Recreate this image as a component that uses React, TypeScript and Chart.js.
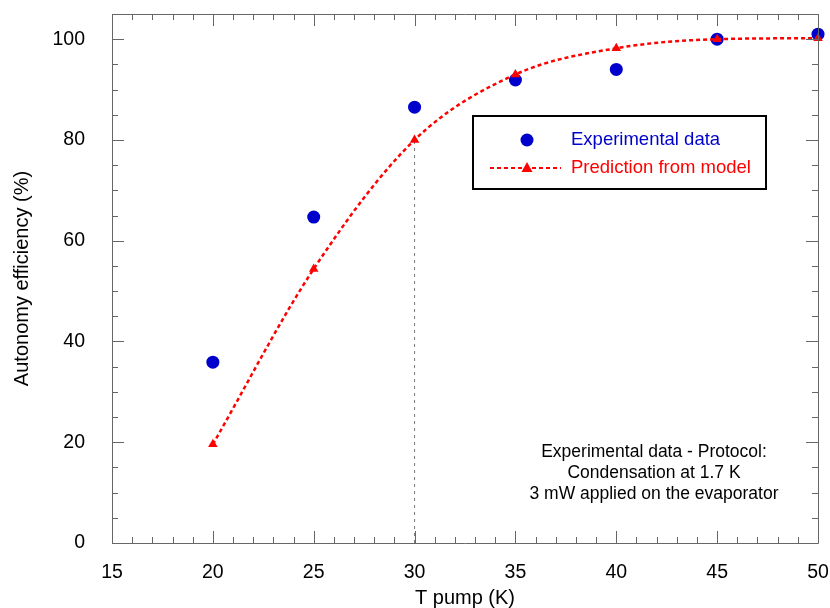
import React, { useEffect, useRef } from "react";
import { Chart, registerables } from "chart.js";

Chart.register(...registerables);

const tPump = [20, 25, 30, 35, 40, 45, 50];
const experimental = [35.9, 64.7, 86.5, 91.9, 94.0, 100.0, 101.0];
const prediction = [19.6, 54.4, 80.0, 93.0, 98.2, 100.0, 100.2];
const guideX = [30, 30];
const guideY = [0, 80];
const legendLabels = ["Experimental data", "Prediction from model"];
const noteLines = [
  "Experimental data - Protocol:",
  "Condensation at 1.7 K",
  "3 mW applied on the evaporator",
];
const xTitle = "T pump (K)";
const yTitle = "Autonomy efficiency (%)";

const FONT = "Arial, 'Liberation Sans', sans-serif";
const BLUE = "#0000cc";
const RED = "#ff0000";
const AXIS = "#666666";

const framePlugin = {
  id: "frame",
  afterDatasetsDraw(chart: any) {
    const { ctx, chartArea: a, scales } = chart;
    const xs = scales.x;
    const ys = scales.y;
    ctx.save();
    ctx.strokeStyle = AXIS;
    ctx.lineWidth = 1;
    ctx.beginPath();
    ctx.rect(Math.round(a.left) + 0.5, Math.round(a.top) + 0.5, Math.round(a.right - a.left), Math.round(a.bottom - a.top));
    ctx.stroke();
    ctx.beginPath();
    for (let v = 15; v <= 50; v += 1) {
      const len = v % 5 === 0 ? 12 : 6;
      const px = Math.round(xs.getPixelForValue(v)) + 0.5;
      ctx.moveTo(px, a.bottom);
      ctx.lineTo(px, a.bottom - len);
      ctx.moveTo(px, a.top);
      ctx.lineTo(px, a.top + len);
    }
    for (let v = 0; v <= 100; v += 5) {
      const len = v % 20 === 0 ? 12 : 6;
      const py = Math.round(ys.getPixelForValue(v)) + 0.5;
      ctx.moveTo(a.left, py);
      ctx.lineTo(a.left + len, py);
      ctx.moveTo(a.right, py);
      ctx.lineTo(a.right - len, py);
    }
    ctx.stroke();

    // legend box
    const bx = 473, by = 116, bw = 293, bh = 73;
    ctx.strokeStyle = "#000";
    ctx.lineWidth = 2;
    ctx.fillStyle = "#fff";
    ctx.fillRect(bx, by, bw, bh);
    ctx.strokeRect(bx, by, bw, bh);
    ctx.fillStyle = BLUE;
    ctx.beginPath();
    ctx.arc(527, 140, 6.5, 0, Math.PI * 2);
    ctx.fill();
    ctx.strokeStyle = RED;
    ctx.lineWidth = 2;
    ctx.setLineDash([4, 3]);
    ctx.beginPath();
    ctx.moveTo(490, 168);
    ctx.lineTo(561, 168);
    ctx.stroke();
    ctx.setLineDash([]);
    ctx.fillStyle = RED;
    ctx.beginPath();
    ctx.moveTo(527, 162);
    ctx.lineTo(532.5, 172);
    ctx.lineTo(521.5, 172);
    ctx.closePath();
    ctx.fill();
    ctx.font = `18.5px ${FONT}`;
    ctx.textBaseline = "middle";
    ctx.textAlign = "left";
    ctx.fillStyle = BLUE;
    ctx.fillText(legendLabels[0], 571, 140);
    ctx.fillStyle = RED;
    ctx.fillText(legendLabels[1], 571, 168);

    ctx.fillStyle = "#000";
    ctx.font = `17.5px ${FONT}`;
    ctx.textAlign = "center";
    noteLines.forEach((t, i) => ctx.fillText(t, 654, 452 + i * 21));
    ctx.restore();
  },
};

const zeroPad = (s: any) => {
  s.paddingTop = 0;
  s.paddingBottom = 0;
  s.paddingLeft = 0;
  s.paddingRight = 0;
};

export default function App() {
  const ref = useRef<HTMLCanvasElement>(null);
  useEffect(() => {
    document.body.style.margin = "0";
    const chart = new Chart(ref.current!, {
      type: "line",
      data: {
        datasets: [
          {
            label: legendLabels[1],
            data: tPump.map((x, i) => ({ x, y: prediction[i] })),
            borderColor: RED,
            backgroundColor: RED,
            borderWidth: 2.5,
            borderDash: [4, 3],
            pointStyle: "triangle",
            pointRadius: 5.5,
            pointBorderWidth: 0,
            cubicInterpolationMode: "monotone",
            clip: false,
          },
          {
            label: legendLabels[0],
            data: tPump.map((x, i) => ({ x, y: experimental[i] })),
            showLine: false,
            borderColor: BLUE,
            backgroundColor: BLUE,
            pointRadius: 6.5,
            pointBorderWidth: 0,
            clip: false,
          },
          {
            label: "guide",
            data: guideX.map((x, i) => ({ x, y: guideY[i] })),
            borderColor: "#777777",
            borderWidth: 1,
            borderDash: [3, 4],
            pointRadius: 0,
          },
        ],
      } as any,
      options: {
        animation: false,
        responsive: false,
        layout: { padding: { top: 14, right: 12, left: 0, bottom: 0 } },
        plugins: { legend: { display: false }, tooltip: { enabled: false } },
        scales: {
          x: {
            type: "linear",
            min: 15,
            max: 50,
            grid: { display: false },
            border: { display: false },
            ticks: { stepSize: 5, color: "#000", padding: 10, font: { family: FONT, size: 19.5 } },
            title: { display: true, text: xTitle, color: "#000", padding: 0, font: { family: FONT, size: 20, lineHeight: 1 } },
            afterFit: (s: any) => { s.height = 65; zeroPad(s); },
          },
          y: {
            type: "linear",
            min: 0,
            max: 105,
            afterBuildTicks: (s: any) => {
              s.ticks = [0, 20, 40, 60, 80, 100].map((v) => ({ value: v }));
            },
            grid: { display: false },
            border: { display: false },
            ticks: { color: "#000", padding: 19, font: { family: FONT, size: 19.5 } },
            title: { display: true, text: yTitle, color: "#000", padding: { top: 12, bottom: 0 }, font: { family: FONT, size: 20, lineHeight: 1 } },
            afterFit: (s: any) => { s.width = 112; zeroPad(s); },
          },
        },
      } as any,
      plugins: [framePlugin],
    });
    return () => chart.destroy();
  }, []);
  return (
    <div style={{ position: "absolute", left: 0, top: 0, width: 830, height: 608 }}>
      <canvas ref={ref} width={830} height={608} style={{ width: 830, height: 608 }} />
    </div>
  );
}
